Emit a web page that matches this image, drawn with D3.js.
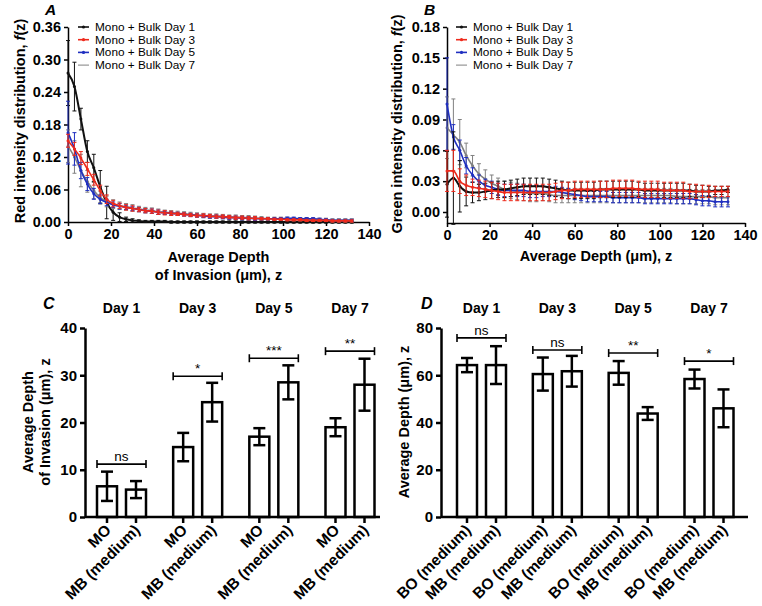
<!DOCTYPE html>
<html><head><meta charset="utf-8">
<script src="https://cdn.jsdelivr.net/npm/d3@7"></script>
<style>
body{margin:0;background:#fff}
svg{font-family:"Liberation Sans",Arial,sans-serif}
</style></head><body>
<div id="chart"></div>
<script>
// sampled depths (um)
var depth = [0,3,6,9,12,15,18,21,24,27,30,33,36,39,42,
             45,48,51,54,57,60,63,66,69,72,75,78,81,84,87,
             90,93,96,99,102,105,108,111,114,117,120,123,126,129,132];

// panel A - red intensity
var aDay1 = [0.275,0.25,0.19,0.13,0.10,0.065,0.036,0.018,0.009,0.005,0.003,0.002,0.001,0.001,0.001,
             0.001,0,0,0,0,0,0,0,0,0,0,0,0,0,0,
             0,0,0,0,0,0,0,0,0,0,0,0,0,0,0];
var aErr1 = [0.06,0.045,0.02,0.02,0.025,0.03,0.03,0.015,0.008,0.004,0.003,0.002,0.002,0.002,0.002,
             0.002,0.002,0.002,0.002,0.002,0.002,0.002,0.002,0.002,0.002,0.002,0.002,0.002,0.002,0.002,
             0.002,0.002,0.002,0.002,0.002,0.002,0.002,0.002,0.002,0.002,0.002,0.002,0.002,0.002,0.002];
var aDay3 = [0.15,0.135,0.118,0.098,0.078,0.058,0.042,0.034,0.03,0.027,0.025,0.023,0.021,0.02,0.018,
             0.017,0.016,0.015,0.014,0.013,0.012,0.012,0.011,0.01,0.01,0.009,0.008,0.008,0.007,0.007,
             0.006,0.006,0.005,0.005,0.004,0.004,0.004,0.003,0.003,0.003,0.003,0.002,0.002,0.002,0.002];
var aErr3 = [0.012,0.012,0.012,0.012,0.01,0.01,0.008,0.006,0.005,0.005,0.005,0.004,0.004,0.004,0.004,
             0.004,0.004,0.003,0.003,0.003,0.003,0.003,0.003,0.003,0.003,0.003,0.003,0.003,0.003,0.003,
             0.002,0.002,0.002,0.002,0.002,0.002,0.002,0.002,0.002,0.002,0.002,0.002,0.002,0.002,0.002];
var aDay5 = [0.165,0.135,0.095,0.07,0.052,0.042,0.036,0.032,0.029,0.027,0.025,0.023,0.021,0.02,0.018,
             0.017,0.016,0.015,0.014,0.013,0.012,0.011,0.01,0.01,0.009,0.008,0.008,0.007,0.007,0.006,
             0.006,0.006,0.006,0.006,0.007,0.007,0.006,0.006,0.006,0.005,0.004,0.003,0.003,0.003,0.003];
var aErr5 = [0.058,0.03,0.015,0.012,0.01,0.008,0.006,0.005,0.005,0.004,0.004,0.004,0.004,0.004,0.004,
             0.003,0.003,0.003,0.003,0.003,0.003,0.003,0.003,0.003,0.003,0.003,0.003,0.003,0.003,0.003,
             0.002,0.002,0.002,0.002,0.002,0.002,0.002,0.002,0.002,0.002,0.002,0.002,0.002,0.002,0.002];
var aDay7 = [0.14,0.12,0.095,0.075,0.058,0.045,0.038,0.033,0.03,0.028,0.026,0.024,0.022,0.021,0.019,
             0.018,0.017,0.016,0.015,0.014,0.013,0.012,0.011,0.011,0.01,0.009,0.009,0.008,0.008,0.007,
             0.007,0.006,0.006,0.006,0.006,0.005,0.005,0.005,0.004,0.004,0.004,0.003,0.003,0.003,0.003];
var aErr7 = [0.03,0.03,0.03,0.02,0.015,0.012,0.01,0.008,0.007,0.006,0.006,0.005,0.005,0.005,0.005,
             0.004,0.004,0.004,0.004,0.004,0.004,0.004,0.004,0.004,0.004,0.004,0.004,0.004,0.004,0.004,
             0.003,0.003,0.003,0.003,0.003,0.003,0.003,0.003,0.003,0.003,0.003,0.003,0.003,0.003,0.003];

// panel B - green intensity
var bDay1 = [0.027,0.033,0.025,0.02,0.019,0.019,0.02,0.021,0.022,0.022,0.023,0.024,0.025,0.025,0.025,
             0.025,0.024,0.023,0.022,0.021,0.021,0.021,0.021,0.021,0.022,0.022,0.022,0.022,0.022,0.022,
             0.022,0.021,0.021,0.021,0.021,0.021,0.021,0.021,0.021,0.02,0.02,0.02,0.021,0.021,0.022];
var bErr1 = [0.032,0.045,0.025,0.014,0.01,0.008,0.008,0.008,0.008,0.008,0.008,0.008,0.008,0.008,0.008,
             0.008,0.008,0.008,0.008,0.008,0.008,0.008,0.008,0.008,0.008,0.008,0.008,0.008,0.008,0.008,
             0.007,0.007,0.007,0.007,0.007,0.007,0.007,0.007,0.006,0.006,0.006,0.005,0.004,0.004,0.003];
var bDay3 = [0.04,0.04,0.03,0.026,0.024,0.023,0.022,0.021,0.02,0.019,0.019,0.019,0.019,0.019,0.019,
             0.019,0.019,0.02,0.021,0.021,0.022,0.022,0.022,0.022,0.022,0.022,0.023,0.023,0.023,0.023,
             0.022,0.022,0.022,0.022,0.021,0.021,0.021,0.021,0.02,0.02,0.02,0.02,0.02,0.02,0.02];
var bErr3 = [0.02,0.02,0.012,0.01,0.008,0.008,0.008,0.008,0.008,0.008,0.008,0.008,0.008,0.008,0.008,
             0.008,0.008,0.008,0.008,0.008,0.008,0.008,0.008,0.008,0.008,0.008,0.008,0.008,0.008,0.008,
             0.008,0.008,0.008,0.008,0.008,0.008,0.008,0.008,0.007,0.007,0.006,0.006,0.005,0.005,0.005];
var bDay5 = [0.105,0.073,0.06,0.045,0.036,0.03,0.026,0.024,0.022,0.021,0.021,0.021,0.021,0.02,0.02,
             0.02,0.02,0.02,0.019,0.018,0.017,0.016,0.015,0.015,0.015,0.015,0.014,0.014,0.014,0.014,
             0.014,0.013,0.013,0.013,0.013,0.013,0.013,0.013,0.013,0.012,0.011,0.011,0.01,0.01,0.01];
var bErr5 = [0.045,0.012,0.01,0.008,0.007,0.006,0.006,0.006,0.006,0.006,0.006,0.006,0.006,0.006,0.006,
             0.005,0.005,0.005,0.005,0.005,0.005,0.005,0.005,0.005,0.005,0.005,0.005,0.005,0.005,0.005,
             0.005,0.005,0.005,0.005,0.005,0.005,0.005,0.005,0.005,0.005,0.005,0.005,0.005,0.005,0.005];
var bDay7 = [0.082,0.075,0.068,0.055,0.045,0.037,0.032,0.028,0.025,0.022,0.021,0.02,0.019,0.018,0.018,
             0.018,0.017,0.016,0.016,0.016,0.016,0.016,0.016,0.016,0.016,0.016,0.016,0.016,0.016,0.016,
             0.016,0.016,0.016,0.016,0.016,0.016,0.015,0.015,0.015,0.015,0.015,0.015,0.014,0.014,0.014];
var bErr7 = [0.03,0.035,0.022,0.012,0.01,0.01,0.009,0.008,0.008,0.008,0.008,0.008,0.008,0.008,0.008,
             0.007,0.007,0.007,0.007,0.007,0.007,0.007,0.007,0.007,0.007,0.007,0.007,0.007,0.007,0.007,
             0.007,0.007,0.007,0.007,0.007,0.007,0.007,0.007,0.007,0.007,0.007,0.007,0.007,0.007,0.007];

var legendNames = ["Mono + Bulk Day 1","Mono + Bulk Day 3","Mono + Bulk Day 5","Mono + Bulk Day 7"];
var colors = ["#111111","#ee2a1c","#1f2fc0","#808080"];
var xTicks = [0,20,40,60,80,100,120,140];
var aTicks = [0,0.06,0.12,0.18,0.24,0.30,0.36];
var bTicks = [0,0.03,0.06,0.09,0.12,0.15,0.18];

// panels C and D - bars
var days = ["Day 1","Day 3","Day 5","Day 7"];
var cNames = ["MO","MB (medium)"];
var cMO = [6.5,14.8,17,19];
var cMOerr = [3.1,3,1.8,1.9];
var cMB = [5.8,24.3,28.5,28];
var cMBerr = [1.8,4.1,3.6,5.5];
var cSig = ["ns","*","***","**"];
var cSigY = [11.2,29.8,33.6,35.1];
var cTicks = [0,10,20,30,40];

var dNames = ["BO (medium)","MB (medium)"];
var dBO = [64.3,60.5,61,58.4];
var dBOerr = [3,7,5,4];
var dMB = [64.3,61.7,43.8,46];
var dMBerr = [8,6.5,2.7,8];
var dSig = ["ns","ns","**","*"];
var dSigY = [75.8,70.7,69.4,66];
var dTicks = [0,20,40,60,80];

var svg = d3.select("#chart").append("svg").attr("width",762).attr("height",606);

function styleAxis(a, w, fs) {
	a.select(".domain").attr("stroke","#000").attr("stroke-width",w);
	a.selectAll(".tick line").attr("stroke","#000").attr("stroke-width",w);
	a.selectAll(".tick text").attr("font-size",fs).attr("font-weight","bold").attr("fill","#000")
		.attr("font-family","Liberation Sans, Arial, sans-serif");
}

function linePanel(o) {
	var x = d3.scaleLinear().domain([0,140]).range([o.x0,o.x1]);
	var y = d3.scaleLinear().domain(o.yDomain).range([o.yBottom,27]);
	var g = svg.append("g");

	var xa = g.append("g").attr("transform","translate(0,"+o.yBottom+")")
		.call(d3.axisBottom(x).tickValues(xTicks).tickSize(4).tickSizeOuter(0).tickPadding(3));
	styleAxis(xa,1.5,14.5);
	var ya = g.append("g").attr("transform","translate("+o.x0+",0)")
		.call(d3.axisLeft(y).tickValues(o.yTicks).tickFormat(d3.format(".2f")).tickSize(4).tickSizeOuter(0).tickPadding(3));
	styleAxis(ya,1.5,14.5);

	var line = d3.line().x(function(d,i){ return x(depth[i]); }).y(function(d){ return y(d); })
		.curve(d3.curveMonotoneX);

	o.order.forEach(function(k) {
		var s = o.series[k], e = o.errs[k], c = colors[k];
		var sg = g.append("g");
		var eb = sg.selectAll(".eb").data(s).enter().append("g");
		eb.append("line")
			.attr("x1",function(d,i){ return x(depth[i]); }).attr("x2",function(d,i){ return x(depth[i]); })
			.attr("y1",function(d,i){ return y(d-e[i]); }).attr("y2",function(d,i){ return y(d+e[i]); });
		eb.append("line")
			.attr("x1",function(d,i){ return x(depth[i])-2; }).attr("x2",function(d,i){ return x(depth[i])+2; })
			.attr("y1",function(d,i){ return y(d+e[i]); }).attr("y2",function(d,i){ return y(d+e[i]); });
		eb.append("line")
			.attr("x1",function(d,i){ return x(depth[i])-2; }).attr("x2",function(d,i){ return x(depth[i])+2; })
			.attr("y1",function(d,i){ return y(d-e[i]); }).attr("y2",function(d,i){ return y(d-e[i]); });
		eb.selectAll("line").attr("stroke",c).attr("stroke-width",1);
		sg.append("path").datum(s).attr("d",line).attr("fill","none").attr("stroke",c)
			.attr("stroke-width",k==0 ? 2 : 1.6);
		sg.selectAll("circle").data(s).enter().append("circle")
			.attr("cx",function(d,i){ return x(depth[i]); }).attr("cy",function(d){ return y(d); })
			.attr("r",1.5).attr("fill",c);
	});

	// legend
	var lg = g.append("g");
	legendNames.forEach(function(n,i) {
		var ly = 27 + i*12.7;
		lg.append("line").attr("x1",o.lx).attr("x2",o.lx+11).attr("y1",ly).attr("y2",ly)
			.attr("stroke",colors[i]).attr("stroke-width",i==3 ? 1 : 1.6);
		if (i < 3) lg.append("circle").attr("cx",o.lx+5.5).attr("cy",ly).attr("r",1.6).attr("fill",colors[i]);
		lg.append("text").attr("x",o.lx+17).attr("y",ly).attr("dy","0.35em")
			.attr("font-size",11).attr("textLength",100).attr("lengthAdjust","spacingAndGlyphs").text(n);
	});

	g.append("text").attr("x",o.letterX).attr("y",15).attr("font-size",15.5).attr("font-weight","bold")
		.attr("font-style","italic").text(o.letter);

	var yt = g.append("text").attr("transform","translate("+o.ytX+","+o.ytY+") rotate(-90)")
		.attr("text-anchor","middle").attr("dy","0.35em").attr("font-size",14.5).attr("font-weight","bold");
	yt.append("tspan").text(o.ytitle);
	yt.append("tspan").attr("font-style","italic").text("f");
	yt.append("tspan").text("(z)");

	o.xtitle.forEach(function(t,i) {
		g.append("text").attr("x",(o.x0+o.x1)/2).attr("y",o.xtY + i*18).attr("text-anchor","middle")
			.attr("font-size",14.5).attr("font-weight","bold").text(t);
	});
}

linePanel({x0:68, x1:369, yBottom:222, yDomain:[0,0.36], yTicks:aTicks,
	series:[aDay1,aDay3,aDay5,aDay7], errs:[aErr1,aErr3,aErr5,aErr7], order:[0,3,2,1],
	lx:78, letter:"A", letterX:45, ytitle:"Red intensity distribution, ", ytX:20, ytY:121,
	xtitle:["Average Depth","of Invasion (\u03bcm), z"], xtY:262});

linePanel({x0:447, x1:745, yBottom:223, yDomain:[-0.0107,0.18], yTicks:bTicks,
	series:[bDay1,bDay3,bDay5,bDay7], errs:[bErr1,bErr3,bErr5,bErr7], order:[3,2,0,1],
	lx:456, letter:"B", letterX:424, ytitle:"Green intensity distribution, ", ytX:397, ytY:124,
	xtitle:["Average Depth (\u03bcm), z"], xtY:261});

function barPanel(o) {
	var gx = d3.scalePoint().domain(days).range([o.c0,o.c1]);
	var ix = d3.scalePoint().domain([0,1]).range([-14.5,14.5]);
	var y = d3.scaleLinear().domain(o.yDomain).range([517,328]);
	var g = svg.append("g");
	var bw = 20;

	var ya = g.append("g").attr("transform","translate("+o.ax0+",0)")
		.call(d3.axisLeft(y).tickValues(o.yTicks).tickSize(5).tickSizeOuter(0).tickPadding(3));
	styleAxis(ya,2.5,15);

	var bars = [];
	days.forEach(function(dd,i) {
		bars.push({day:dd, k:0, v:o.v0[i], e:o.e0[i]});
		bars.push({day:dd, k:1, v:o.v1[i], e:o.e1[i]});
	});
	function bx(d) { return gx(d.day) + ix(d.k); }

	// ticks and labels
	g.selectAll(".tk").data(bars).enter().append("line")
		.attr("x1",bx).attr("x2",bx).attr("y1",517).attr("y2",523)
		.attr("stroke","#000").attr("stroke-width",2.5);
	g.selectAll(".tl").data(bars).enter().append("text")
		.attr("transform",function(d){ return "translate("+(bx(d)+5)+",531) rotate(-45)"; })
		.attr("text-anchor","end").attr("font-size",15.5).attr("font-weight","bold")
		.text(function(d){ return o.names[d.k]; });

	g.selectAll(".bar").data(bars).enter().append("rect")
		.attr("x",function(d){ return bx(d)-bw/2; }).attr("width",bw)
		.attr("y",function(d){ return y(d.v); }).attr("height",function(d){ return 517-y(d.v); })
		.attr("fill","#fff").attr("stroke","#000").attr("stroke-width",2.5);

	var eb = g.selectAll(".err").data(bars).enter().append("g")
		.attr("stroke","#000").attr("stroke-width",2.5);
	eb.append("line").attr("x1",bx).attr("x2",bx)
		.attr("y1",function(d){ return y(d.v-d.e); }).attr("y2",function(d){ return y(d.v+d.e); });
	eb.append("line").attr("x1",function(d){ return bx(d)-6; }).attr("x2",function(d){ return bx(d)+6; })
		.attr("y1",function(d){ return y(d.v+d.e); }).attr("y2",function(d){ return y(d.v+d.e); });
	eb.append("line").attr("x1",function(d){ return bx(d)-6; }).attr("x2",function(d){ return bx(d)+6; })
		.attr("y1",function(d){ return y(d.v-d.e); }).attr("y2",function(d){ return y(d.v-d.e); });

	g.append("line").attr("x1",o.ax0).attr("x2",o.ax1).attr("y1",517).attr("y2",517)
		.attr("stroke","#000").attr("stroke-width",2.5);

	// significance brackets
	days.forEach(function(dd,i) {
		var l = gx(dd)+ix(0)-bw/2, r = gx(dd)+ix(1)+bw/2, yy = y(o.sigY[i]);
		var sg = g.append("g").attr("stroke","#000").attr("stroke-width",1.6);
		sg.append("line").attr("x1",l).attr("x2",r).attr("y1",yy).attr("y2",yy);
		sg.append("line").attr("x1",l).attr("x2",l).attr("y1",yy-4).attr("y2",yy+4);
		sg.append("line").attr("x1",r).attr("x2",r).attr("y1",yy-4).attr("y2",yy+4);
		g.append("text").attr("x",(l+r)/2).attr("y",yy-3).attr("text-anchor","middle")
			.attr("font-size",13.5).text(o.sig[i]);
		g.append("text").attr("x",gx(dd)).attr("y",313).attr("text-anchor","middle")
			.attr("font-size",14).attr("font-weight","bold").text(dd);
	});

	g.append("text").attr("x",o.letterX).attr("y",309).attr("font-size",16).attr("font-weight","bold")
		.attr("font-style","italic").text(o.letter);

	o.ytitle.forEach(function(t,i) {
		g.append("text").attr("transform","translate("+(o.ytX+i*17)+",422) rotate(-90)")
			.attr("text-anchor","middle").attr("dy","0.35em").attr("font-size",14.5).attr("font-weight","bold").text(t);
	});
}

barPanel({c0:121.5, c1:350, ax0:85, ax1:380, yDomain:[0,40], yTicks:cTicks,
	v0:cMO, e0:cMOerr, v1:cMB, e1:cMBerr, names:cNames, sig:cSig, sigY:cSigY,
	letter:"C", letterX:43, ytitle:["Average Depth","of Invasion (\u03bcm), z"], ytX:28});

barPanel({c0:481.5, c1:709, ax0:441, ax1:748, yDomain:[0,80], yTicks:dTicks,
	v0:dBO, e0:dBOerr, v1:dMB, e1:dMBerr, names:dNames, sig:dSig, sigY:dSigY,
	letter:"D", letterX:421, ytitle:["Average Depth (\u03bcm), z"], ytX:404});
</script></body></html>
